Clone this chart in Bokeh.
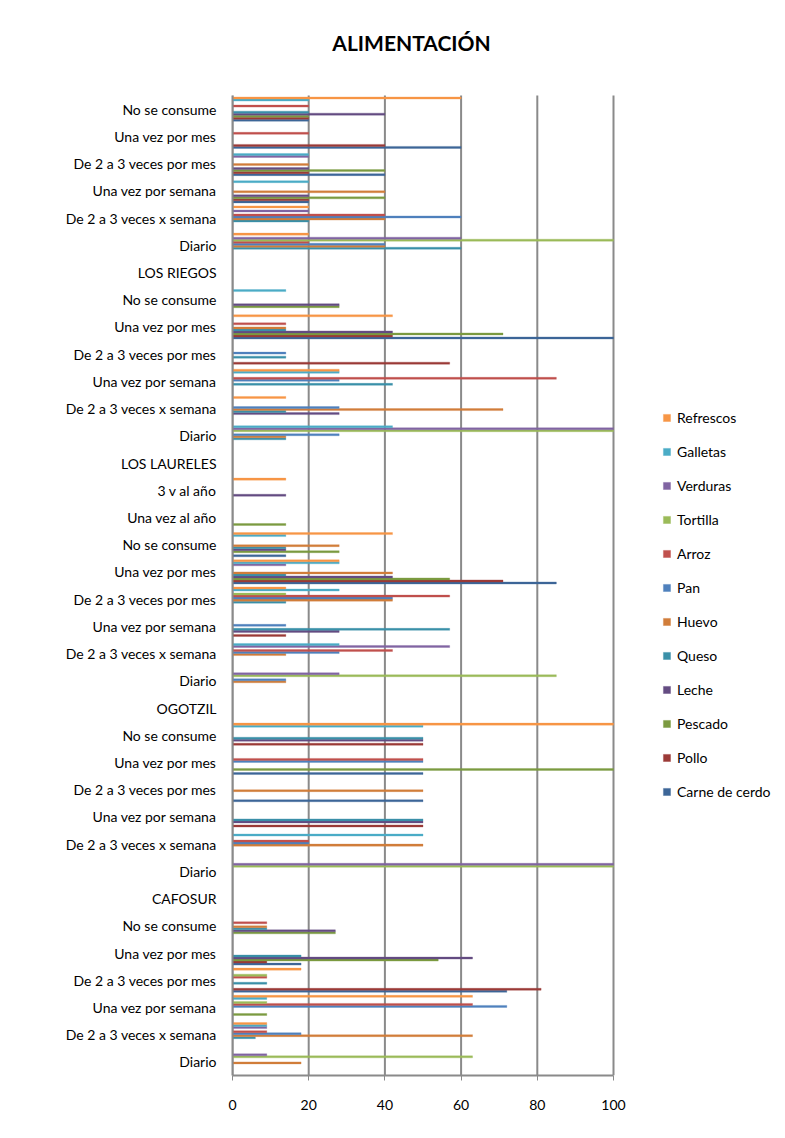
from bokeh.plotting import figure
from bokeh.models import FixedTicker, Legend, LegendItem, ColumnDataSource, Range1d, Label
from bokeh.transform import dodge
from bokeh.embed import file_html
from bokeh.resources import INLINE

# categories, bottom to top
categories = [
    "Diario", "De 2 a 3 veces x semana", "Una vez por semana", "De 2 a 3 veces por mes",
    "Una vez por mes", "No se consume", "CAFOSUR",
    "Diario", "De 2 a 3 veces x semana", "Una vez por semana", "De 2 a 3 veces por mes",
    "Una vez por mes", "No se consume", "OGOTZIL",
    "Diario", "De 2 a 3 veces x semana", "Una vez por semana", "De 2 a 3 veces por mes",
    "Una vez por mes", "No se consume", "Una vez al año", "3 v al año", "LOS LAURELES",
    "Diario", "De 2 a 3 veces x semana", "Una vez por semana", "De 2 a 3 veces por mes",
    "Una vez por mes", "No se consume", "LOS RIEGOS",
    "Diario", "De 2 a 3 veces x semana", "Una vez por semana", "De 2 a 3 veces por mes",
    "Una vez por mes", "No se consume",
]

series_names = ["Carne de cerdo", "Pollo", "Pescado", "Leche", "Queso", "Huevo",
                "Pan", "Arroz", "Tortilla", "Verduras", "Galletas", "Refrescos"]
colors = ["#3D6698", "#9B3A37", "#7B9A40", "#644C82", "#3A90A8", "#D17D3A",
          "#4F81BD", "#C0504D", "#9BBB59", "#8064A2", "#4BACC6", "#F79646"]

#                CAFOSUR                      OGOTZIL                       LOS LAURELES                         LOS RIEGOS                     top group
carne_de_cerdo = [0, 0, 0, 72, 18, 0, 0,      0, 0, 0, 50, 50, 0, 0,        0, 0, 0, 0, 85, 14, 0, 0, 0,         0, 0, 0, 0, 100, 0, 0,         0, 0, 20, 40, 60, 20]
pollo          = [0, 0, 0, 81, 9, 0, 0,       0, 0, 50, 0, 0, 50, 0,        0, 0, 14, 0, 71, 0, 0, 0, 0,         0, 0, 0, 57, 42, 0, 0,         0, 0, 20, 20, 40, 20]
pescado        = [0, 0, 9, 0, 54, 27, 0,      0, 0, 0, 0, 100, 0, 0,        0, 0, 0, 0, 57, 28, 14, 0, 0,        0, 0, 0, 0, 71, 28, 0,         0, 0, 40, 40, 0, 20]
leche          = [0, 0, 0, 0, 63, 27, 0,      0, 0, 50, 0, 0, 50, 0,        0, 0, 28, 0, 42, 14, 0, 14, 0,       0, 28, 0, 0, 42, 28, 0,        0, 0, 20, 20, 0, 40]
queso          = [0, 6, 0, 9, 18, 9, 0,       0, 0, 50, 0, 0, 50, 0,        0, 0, 57, 14, 14, 14, 0, 0, 0,       14, 14, 42, 14, 14, 0, 0,      60, 20, 0, 0, 0, 20]
huevo          = [18, 63, 0, 0, 0, 9, 0,      0, 50, 0, 50, 0, 0, 0,        14, 14, 0, 42, 42, 28, 0, 0, 0,      14, 71, 0, 0, 14, 0, 0,        40, 40, 40, 20, 0, 0]
pan            = [0, 18, 72, 0, 0, 0, 0,      0, 20, 0, 0, 50, 0, 0,        14, 28, 14, 42, 0, 0, 0, 0, 0,       28, 28, 28, 14, 0, 0, 0,       40, 60, 0, 0, 0, 0]
arroz          = [0, 9, 63, 9, 0, 9, 0,       0, 20, 0, 0, 50, 0, 0,        0, 42, 0, 57, 0, 0, 0, 0, 0,         0, 0, 85, 0, 14, 0, 0,         20, 40, 0, 0, 20, 20]
tortilla       = [63, 0, 9, 9, 0, 0, 0,       100, 0, 0, 0, 0, 0, 0,        85, 0, 0, 14, 0, 0, 0, 0, 0,         100, 0, 0, 0, 0, 0, 0,         100, 0, 0, 0, 0, 0]
verduras       = [9, 9, 0, 0, 0, 0, 0,        100, 0, 0, 0, 0, 0, 0,        28, 57, 0, 0, 14, 0, 0, 0, 0,        100, 0, 0, 0, 0, 0, 0,         60, 20, 0, 20, 0, 0]
galletas       = [0, 9, 9, 0, 0, 0, 0,        0, 50, 0, 0, 0, 50, 0,        0, 28, 0, 28, 28, 14, 0, 0, 0,       42, 0, 28, 0, 0, 14, 0,        0, 0, 20, 20, 0, 20]
refrescos      = [0, 9, 63, 18, 0, 0, 0,      0, 0, 0, 0, 0, 100, 0,        0, 0, 0, 14, 28, 42, 0, 14, 0,       0, 14, 28, 0, 42, 0, 0,        20, 20, 0, 0, 0, 60]

series_values = [carne_de_cerdo, pollo, pescado, leche, queso, huevo,
                 pan, arroz, tortilla, verduras, galletas, refrescos]
x_ticks = [0, 20, 40, 60, 80, 100]
title_text = "ALIMENTACIÓN"

FONT = "Lato"
GRID = "#8A8A8A"

# layout (pixels): figure size, plot-area box of the value axis
W, H = 777, 1128
LEFT, RIGHT_100, TOP_CAT, BOTTOM = 232, 613, 95, 1075
ncat = len(categories)
px_per_cat = (BOTTOM - TOP_CAT) / ncat
x_end = 100 * (W - LEFT) / (RIGHT_100 - LEFT)           # frame runs to the figure edge
y_end = ncat - 0.5 + TOP_CAT / px_per_cat              # frame runs to the figure top

p = figure(width=W, height=H, x_range=Range1d(0, x_end), y_range=Range1d(-0.5, y_end),
           output_backend="svg", toolbar_location=None,
           min_border_left=LEFT, min_border_right=0, min_border_top=0,
           min_border_bottom=H - BOTTOM)

# vertical grid lines limited to the category area
grid_src = ColumnDataSource(dict(x=x_ticks))
p.segment(x0="x", y0=-0.5, x1="x", y1=ncat - 0.5, source=grid_src,
          line_color=GRID, line_width=2)

n = len(series_names)
slot = 1.0 / (n + 1.5)
renderers = []
for k, (name, vals) in enumerate(zip(series_names, series_values)):
    src = ColumnDataSource(dict(y=list(range(ncat)), v=vals))
    r = p.hbar(y=dodge("y", (k - (n - 1) / 2) * slot), left=0, right="v", height=slot,
               fill_color=colors[k], line_color=colors[k], line_alpha=0.3, line_width=1,
               source=src)
    renderers.append(r)

p.yaxis.ticker = FixedTicker(ticks=list(range(ncat)))
p.yaxis.bounds = (-0.5, ncat - 0.5)
p.yaxis.major_label_overrides = {i: c for i, c in enumerate(categories)}
p.yaxis.major_tick_line_color = None
p.yaxis.minor_tick_line_color = None
p.yaxis.major_label_standoff = 10
p.yaxis.axis_line_color = GRID
p.yaxis.axis_line_width = 2
p.yaxis.major_label_text_font = FONT
p.yaxis.major_label_text_font_size = "14px"
p.yaxis.major_label_text_color = "black"

p.xaxis.ticker = FixedTicker(ticks=x_ticks)
p.xaxis.bounds = (0, 100)
p.xaxis.axis_line_color = GRID
p.xaxis.axis_line_width = 2
p.xaxis.major_tick_line_color = GRID
p.xaxis.major_tick_in = 0
p.xaxis.major_tick_out = 5
p.xaxis.minor_tick_line_color = None
p.xaxis.major_label_standoff = 19
p.xaxis.major_label_text_font = FONT
p.xaxis.major_label_text_font_size = "14px"
p.xaxis.major_label_text_color = "black"

p.xgrid.visible = False
p.ygrid.visible = False
p.outline_line_color = None

# title placed above the category area (centre at x=411px, y=42px)
title_x = 100 * (411 - LEFT) / (RIGHT_100 - LEFT)
title_y = ncat - 0.5 + (TOP_CAT - 42) / px_per_cat
p.add_layout(Label(x=title_x, y=title_y, text=title_text, text_align="center",
                   text_baseline="middle", text_font=FONT, text_font_size="21px",
                   text_font_style="bold", text_color="black"))

items = [LegendItem(label=series_names[k], renderers=[renderers[k]]) for k in reversed(range(n))]
legend = Legend(items=items, location=(430, 274), border_line_color=None,
                background_fill_alpha=0, label_text_font=FONT, label_text_font_size="14px",
                label_text_color="black", glyph_width=9, glyph_height=9, label_height=20,
                spacing=14, label_standoff=6, padding=0, margin=0)
p.add_layout(legend, "center")

open("out.html", "w").write(file_html(p, INLINE))
